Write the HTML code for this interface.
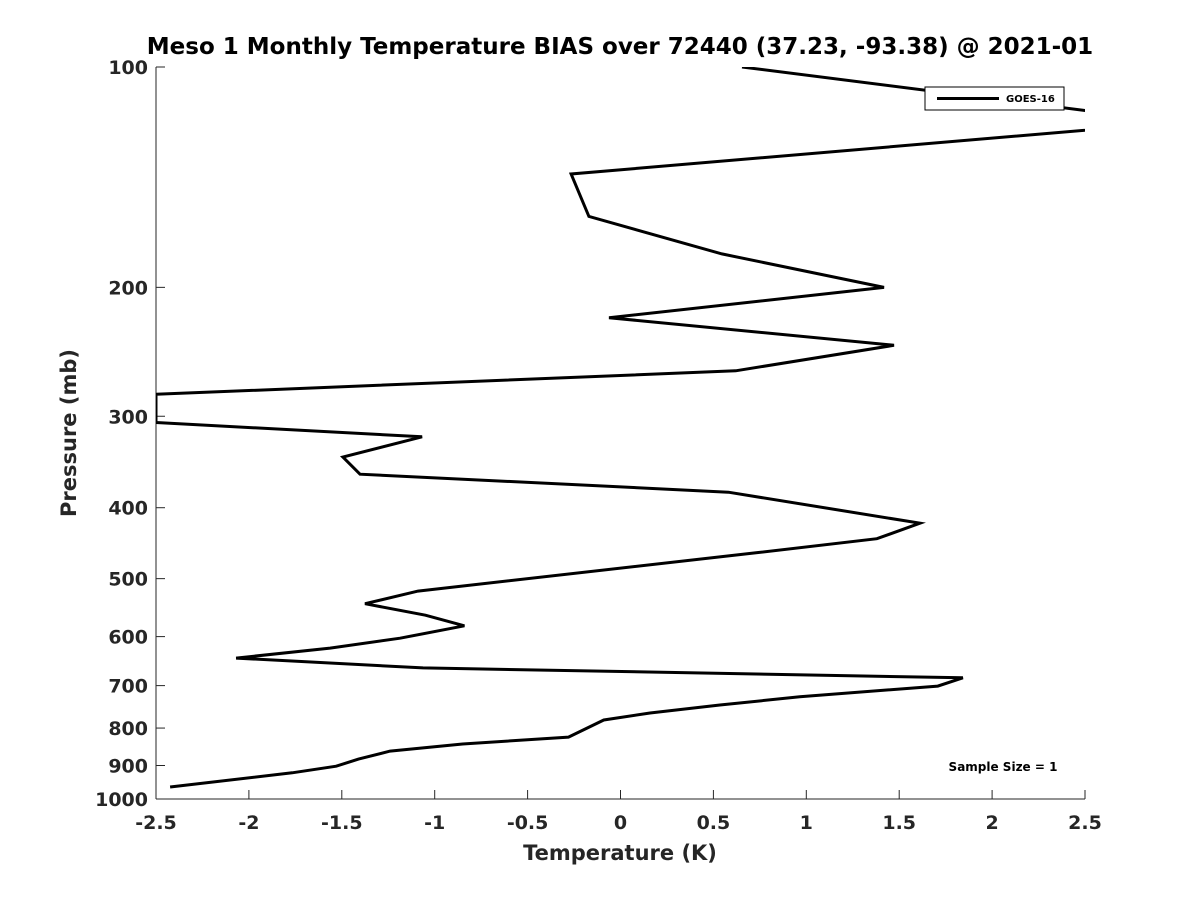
<!DOCTYPE html>
<html><head><meta charset="utf-8"><style>
body{margin:0;background:#fff;}
svg{display:block;font-family:"DejaVu Sans","Liberation Sans",sans-serif;}
</style></head><body>
<svg id="chart" width="1200" height="900">
<defs><clipPath id="plotclip"><rect x="156" y="67" width="929" height="732"/></clipPath></defs>
<text x="620" y="54" text-anchor="middle" font-size="23" font-weight="bold">Meso 1 Monthly Temperature BIAS over 72440 (37.23, -93.38) @ 2021-01</text>
<g id="axes"></g>
<g id="series" clip-path="url(#plotclip)"></g>
<text x="620" y="860" text-anchor="middle" font-size="21" font-weight="bold" fill="#262626">Temperature (K)</text>
<text transform="translate(76,433) rotate(-90)" text-anchor="middle" font-size="21" font-weight="bold" fill="#262626">Pressure (mb)</text>
<g>
<rect x="925" y="87" width="139" height="23" fill="#fff" stroke="#000" stroke-width="1"/>
<line x1="937" y1="98.5" x2="999" y2="98.5" stroke="#000" stroke-width="3"/>
<text x="1006" y="102" font-size="10" font-weight="bold">GOES-16</text>
</g>
<text x="1003" y="771" text-anchor="middle" font-size="12" font-weight="bold">Sample Size = 1</text>
</svg>
<script>
const xTicks=[-2.5,-2,-1.5,-1,-0.5,0,0.5,1,1.5,2,2.5];
const xTickLabels=["-2.5","-2","-1.5","-1","-0.5","0","0.5","1","1.5","2","2.5"];
const yTicks=[100,200,300,400,500,600,700,800,900,1000];
const pressures=[100,119,140,160,180,200,220,240,260,280,306,320,341,360,381,420,441,461,520,541,561,580,603,622,642,662,683,701,725,744,763,780,823,841,860,882,902,921,963];
const biasValues=[0.654,3.0,-0.266,-0.17,0.546,1.418,-0.062,1.472,0.62,-2.5,-2.5,-1.068,-1.494,-1.402,0.581,1.612,1.38,0.73,-1.09,-1.375,-1.05,-0.84,-1.186,-1.563,-2.069,-1.063,1.843,1.708,0.965,0.535,0.159,-0.09,-0.28,-0.85,-1.24,-1.41,-1.53,-1.767,-2.424];
const X0=156,X1=1085,Y0=67,Y1=799;
function xs(v){return X0+(v+2.5)/5*(X1-X0);}
function ys(p){return Y0+Math.log10(p/100)*(Y1-Y0);}
const NS="http://www.w3.org/2000/svg";
const axes=document.getElementById('axes');
function mk(tag,attrs,parent){const e=document.createElementNS(NS,tag);for(const k in attrs)e.setAttribute(k,attrs[k]);parent.appendChild(e);return e;}
const xl=mk('line',{x1:X0,y1:Y1,x2:X1,y2:Y1,stroke:'#262626','stroke-width':1},axes);


const yl=mk('line',{x1:X0,y1:Y0,x2:X0,y2:Y1,stroke:'#262626','stroke-width':1},axes);


xTicks.forEach((v,i)=>{
  const x=xs(v);
  const t=mk('line',{x1:x,y1:Y1,x2:x,y2:Y1-9,stroke:'#262626'},axes);
  
  
  const l=mk('text',{x:x,y:829,'text-anchor':'middle','font-size':19,'font-weight':'bold',fill:'#262626'},axes);
  l.textContent=xTickLabels[i];
  
  
});
yTicks.forEach(p=>{
  const y=ys(p);
  const t=mk('line',{x1:X0,y1:y,x2:X0+9,y2:y,stroke:'#262626'},axes);
  
  
  const l=mk('text',{x:148,y:y+7,'text-anchor':'end','font-size':19,'font-weight':'bold',fill:'#262626'},axes);
  l.textContent=String(p);
  
  
});
const pts=pressures.map((p,i)=>xs(biasValues[i]).toFixed(1)+','+ys(p).toFixed(1)).join(' ');
const line=mk('polyline',{points:pts,fill:'none',stroke:'#000','stroke-width':3,'stroke-linejoin':'miter'},document.getElementById('series'));


</script>
</body></html>
